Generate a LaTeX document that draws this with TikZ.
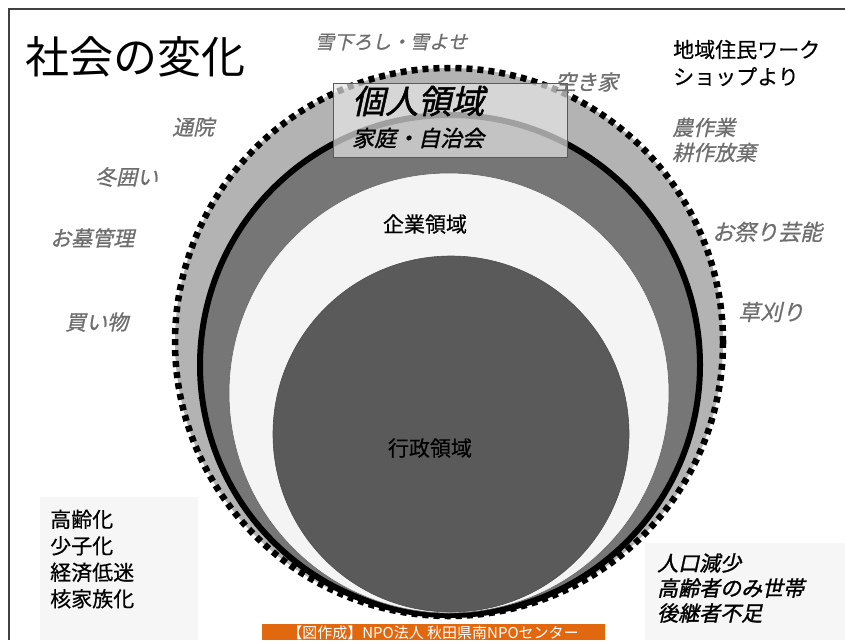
\documentclass[tikz,border=0pt]{standalone}
\usepackage{fontspec}
\setmainfont{Noto Sans CJK JP}
\newfontfamily\jpit[FakeSlant=0.22,FakeBold=0.8]{Noto Sans CJK JP}
\newfontfamily\jpbi[FakeSlant=0.22,FakeBold=1.4]{Noto Sans CJK JP}
\newfontfamily\jpmd[FakeBold=0.5]{Noto Sans CJK JP}
\usetikzlibrary{positioning}
\definecolor{ringlight}{HTML}{B3B3B3}
\definecolor{ringdark}{HTML}{767676}
\definecolor{corewhite}{HTML}{F4F4F4}
\definecolor{coredark}{HTML}{5A5A5A}
\definecolor{choregray}{HTML}{6E6E6E}
\definecolor{bannerorange}{HTML}{E2680F}
\definecolor{panelgray}{HTML}{F6F6F6}
\tikzstyle{task} = [font=\jpit\fontsize{21}{25}\selectfont, text=choregray,
    align=left, inner sep=0pt, anchor=west]
\tikzstyle{plain} = [font=\jpmd\fontsize{21}{27}\selectfont, align=left,
    inner sep=0pt, anchor=west]
\tikzstyle{strong} = [font=\jpbi\fontsize{21}{25}\selectfont, align=left,
    inner sep=0pt, anchor=west]
\tikzstyle{panel} = [fill=panelgray, draw=none]

\begin{document}
\begin{tikzpicture}[x=1pt, y=-1pt]
  \useasboundingbox (0,0) rectangle (845,640);
  \fill[white] (0,0) rectangle (845,640);
  % frame
  \draw[line width=2pt, black!75] (9,640) -- (9,9) -- (845,9);
  % side panels
  \fill[panel] (40,497) rectangle (198,640);
  \fill[panel] (645,543) rectangle (845,640);
  % rings
  \fill[ringlight] (449,342) circle[radius=274pt];
  \draw[line width=6.5pt, dash pattern=on 6pt off 5pt] (449,342) circle[radius=274pt];
  \fill[ringdark] (450,365) circle[radius=250pt];
  \draw[line width=6pt] (450,365) circle[radius=250pt];
  \filldraw[fill=corewhite, draw=black!60, line width=0.6pt] (449,393) circle[radius=220pt];
  \filldraw[fill=coredark, draw=black!70, line width=0.6pt] (451,434) circle[radius=178pt];
  % private domain
  \node [draw=black!65, line width=1pt, fill=white!80!gray, fill opacity=0.7,
    minimum width=234pt, minimum height=74pt, anchor=north west, inner sep=0pt]
    (privbox) at (333,83) {};
  \node [font=\jpbi\fontsize{33}{33}\selectfont, inner sep=0pt, anchor=west]
    (priv) at (352,101) {個人領域};
  \node [strong, font=\jpbi\fontsize{22}{25}\selectfont] (family) at (352,138) {家庭・自治会};
  \node [font=\jpmd\fontsize{21}{25}\selectfont, inner sep=0pt] (corp) at (425,224) {企業領域};
  \node [font=\jpmd\fontsize{21}{25}\selectfont, inner sep=0pt] (gov) at (430,448) {行政領域};
  % title and source
  \node [plain, font=\fontsize{44}{44}\selectfont] (title) at (25,57) {社会の変化};
  \node [plain] (workshop) at (673,63) {地域住民ワーク\\ショップより};
  % chores
  \node [task, font=\jpit\fontsize{19}{25}\selectfont] (snow) at (315,42) {雪下ろし・雪よせ};
  \node [task] (vacant) at (555,82) {空き家};
  \node [task] (clinic) at (172,127) {通院};
  \node [task] (winter) at (95,177) {冬囲い};
  \node [task] (grave) at (50,238) {お墓管理};
  \node [task] (shop) at (65,322) {買い物};
  \node [task] (farm) at (672,140) {農作業\\耕作放棄};
  \node [task, font=\jpit\fontsize{22}{25}\selectfont] (festival) at (712,232) {お祭り芸能};
  \node [task, font=\jpit\fontsize{22}{25}\selectfont] (mowing) at (738,312) {草刈り};
  % trends
  \node [plain, font=\jpmd\fontsize{21}{26.5}\selectfont] (trends) at (50,559) {高齢化\\少子化\\経済低迷\\核家族化};
  \node [strong, font=\jpbi\fontsize{21}{25}\selectfont] (local) at (657,588) {人口減少\\高齢者のみ世帯\\後継者不足};
  % credit
  \fill[bannerorange] (262,624) rectangle (605,640);
  \node [text=white, font=\fontsize{15}{15}\selectfont, inner sep=0pt] (credit) at (433,633)
    {【図作成】NPO法人 秋田県南NPOセンター};
\end{tikzpicture}
\end{document}
